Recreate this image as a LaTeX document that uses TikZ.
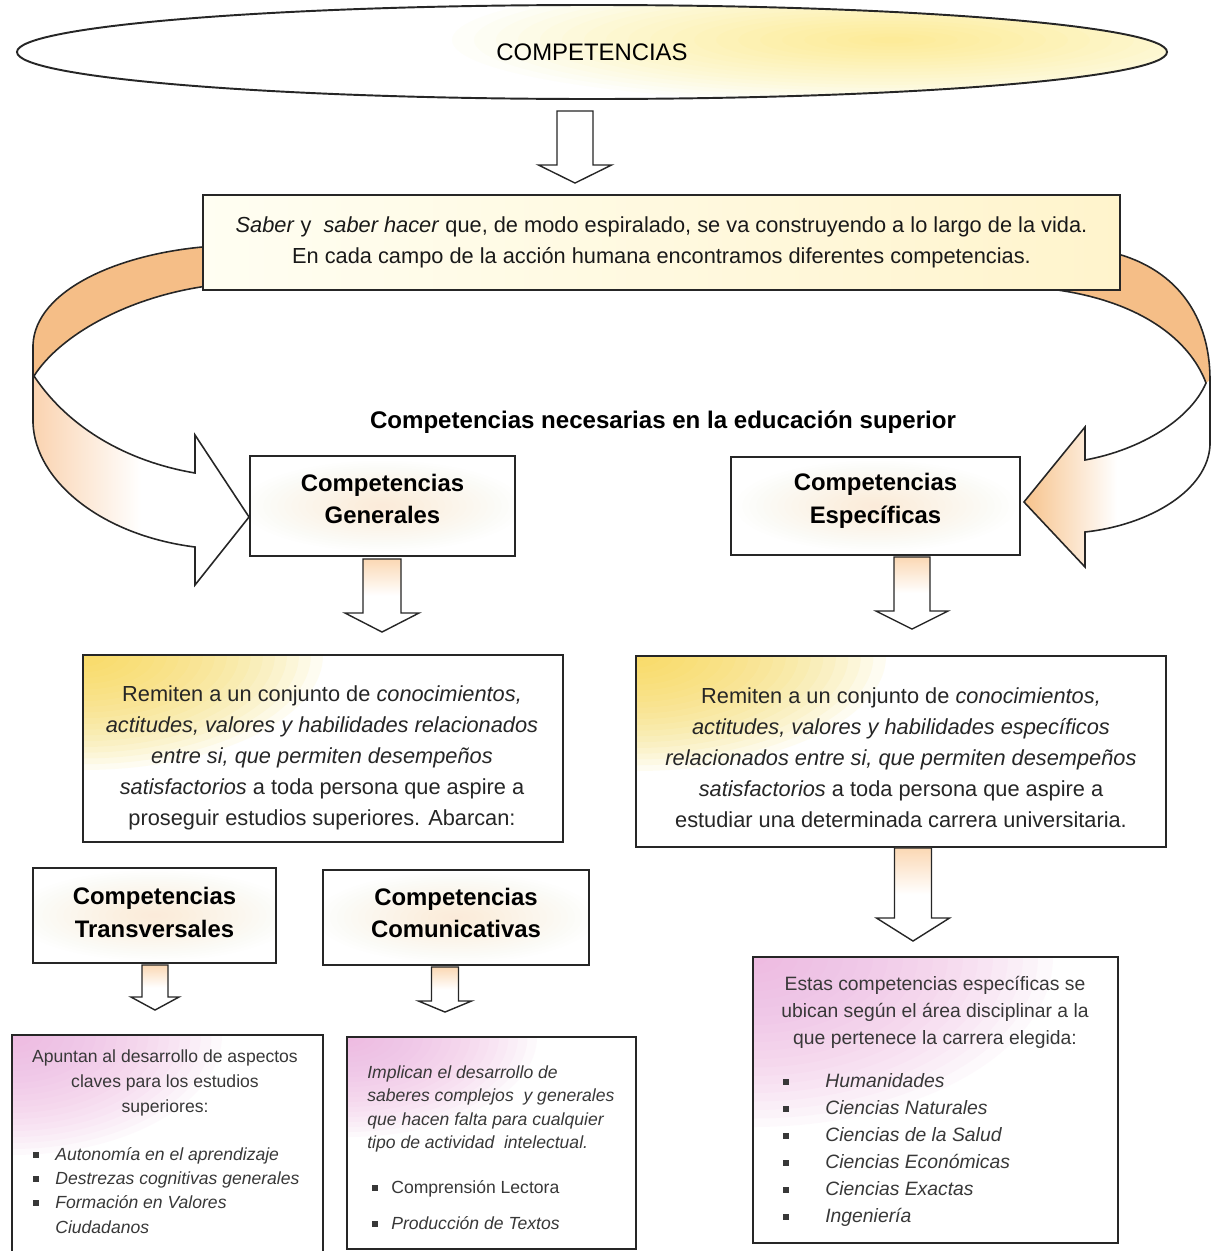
\documentclass[tikz,border=0pt]{standalone}
\usepackage{fontspec}
\setmainfont{Liberation Sans}
\usepackage{tikz}
\usetikzlibrary{shapes.geometric, positioning, calc, backgrounds}

\definecolor{bandorange}{HTML}{F5BE87}
\definecolor{bandlight}{HTML}{FAD3B0}
\definecolor{headorange}{HTML}{F7C38C}
\definecolor{arrowtint}{HTML}{FBD8B4}
\definecolor{glowyellow}{HTML}{F9D646}
\definecolor{glowpink}{HTML}{EEAEDF}
\definecolor{creamleft}{HTML}{FFFEF2}
\definecolor{creamright}{HTML}{FFF4CC}
\definecolor{textgray}{HTML}{383838}

\newlength\pxu
\setlength\pxu{0.02cm}

\newcommand{\sqb}{\rule[1.5pt]{3.2pt}{3.2pt}}

% hollow arrow going down from one box to the next
\newcommand{\blockdown}[9][]{%
  \coordinate (bd-top) at ($(#2.south -| #4,0)+(0,#8)$);
  \coordinate (bd-tip) at ($(#3.north -| #4,0)+(0,-#9)$);
  \draw[blockarr,#1] ($(bd-top)+(-#5,0)$) -- ($(bd-top)+(#5,0)$)
    -- ($(bd-tip)+(#5,-#7)$) -- ($(bd-tip)+(#6,-#7)$) -- (bd-tip)
    -- ($(bd-tip)+(-#6,-#7)$) -- ($(bd-tip)+(-#5,-#7)$) -- cycle;}

\begin{document}
\begin{tikzpicture}[x=0.02cm, y=-0.02cm,
    box/.style={rectangle, draw=black!85, line width=1.1pt, inner sep=0pt, align=center, fill=white},
    glow/.style n args={5}{path picture={\foreach \k in {1,...,20} {\fill[#1, opacity=#5] (path picture bounding box.#2) ellipse [x radius={#3*\k/20*\pxu}, y radius={#4*\k/20*\pxu}];}}},
    headbox/.style={box, glow={arrowtint}{center}{140}{45}{0.025}},
    headtext/.style={inner sep=0pt, align=center, font=\fontsize{13.6}{18.7}\selectfont\bfseries},
    partext/.style={inner sep=0pt, align=center, font=\fontsize{12.4}{17.6}\selectfont, text=black!85},
    smalltext/.style={inner sep=0pt, text=textgray, font=\fontsize{10}{14.2}\selectfont},
    listtext/.style={inner sep=0pt, text=textgray, text height=8.6pt, text depth=1.6pt},
    blockarr/.style={draw=black!85, line width=0.8pt, fill=white},
    tinted/.style={top color=arrowtint, bottom color=white, middle color=white},
    ribbonline/.style={draw=black!85, line width=0.9pt}]

  \useasboundingbox (0,0) rectangle (1212,1251);

  \node[ellipse, draw=black!85, line width=1.1pt, fill=white, minimum width=1150\pxu, minimum height=94\pxu,
    path picture={\foreach \k in {1,...,20} {\fill[yellow!80!orange, opacity=0.025] ($(path picture bounding box.center)+(300,-12)$) ellipse [x radius={22*\k*\pxu}, y radius={3.2*\k*\pxu}];}},
    font=\fontsize{13.6}{16}\selectfont] (comp) at (592,52) {COMPETENCIAS};

  \node[box, left color=creamleft, right color=creamright, minimum width=917\pxu, minimum height=95\pxu,
    font=\fontsize{12.4}{17.6}\selectfont, text=black!90] (sab) at (661.5,242.5)
    {\textit{Saber} y \ \textit{saber hacer} que, de modo espiralado, se va construyendo a lo largo de la vida.\\
     En cada campo de la acción humana encontramos diferentes competencias.};

  \node[font=\fontsize{13.7}{16}\selectfont\bfseries] (nec) at (663,422) {Competencias necesarias en la educación superior};

  \node[headbox, minimum width=265\pxu, minimum height=100\pxu] (gen) at (382.5,506) {};
  \node[headtext] (gen-text) at (382.5,499) {Competencias\\Generales};
  \node[headbox, minimum width=289\pxu, minimum height=98\pxu] (spec) at (875.5,506) {};
  \node[headtext] (spec-text) at (875.5,500.5) {Competencias\\Específicas};

  \node[box, glow={glowyellow}{north west}{240}{115}{0.07}, minimum width=480\pxu, minimum height=187\pxu] (gen2) at (323,748.5) {};
  \node[partext] (gen2-text) at (322,758)
    {Remiten a un conjunto de \textit{conocimientos,}\\
     \textit{actitudes, valores y habilidades relacionados}\\
     \textit{entre si, que permiten desempeños}\\
     \textit{satisfactorios} a toda persona que aspire a\\
     proseguir estudios superiores. Abarcan:};
  \node[box, glow={glowyellow}{north west}{250}{115}{0.07}, minimum width=530\pxu, minimum height=191\pxu] (spec2) at (901,751.5) {};
  \node[partext] (spec2-text) at (901,758)
    {Remiten a un conjunto de \textit{conocimientos,}\\
     \textit{actitudes, valores y habilidades específicos}\\
     \textit{relacionados entre si, que permiten desempeños}\\
     \textit{satisfactorios} a toda persona que aspire a\\
     estudiar una determinada carrera universitaria.};

  \node[headbox, minimum width=243\pxu, minimum height=95\pxu] (trans) at (154.5,915.5) {};
  \node[headtext] (trans-text) at (154.5,912.5) {Competencias\\Transversales};
  \node[headbox, minimum width=266\pxu, minimum height=95\pxu] (comu) at (456,917.5) {};
  \node[headtext] (comu-text) at (456,913) {Competencias\\Comunicativas};

  \node[box, glow={glowpink}{north west}{210}{120}{0.07}, minimum width=311\pxu, minimum height=219\pxu] (trans2) at (167.5,1144.5) {};
  \node[box, glow={glowpink}{north west}{190}{100}{0.07}, minimum width=289\pxu, minimum height=212\pxu] (comu2) at (491.5,1143) {};
  \node[box, glow={glowpink}{north west}{300}{170}{0.07}, minimum width=365\pxu, minimum height=286\pxu] (spec3) at (935.5,1100) {};

  \node[smalltext, align=center] (trans-intro) at (165,1083)
    {Apuntan al desarrollo de aspectos\\claves para los estudios\\superiores:};
  \foreach \aim [count=\i from 0] in {Autonomía en el aprendizaje, Destrezas cognitivas generales, Formación en Valores}
    \node[listtext, anchor=west, font=\fontsize{10}{13.6}\selectfont\itshape] (aim-\i) at (33,1154+24*\i) {\makebox[22\pxu][l]{\sqb}\aim};
  \node[listtext, anchor=west, font=\fontsize{10}{13.6}\selectfont\itshape] (aim-3) at (55,1227) {Ciudadanos};

  \node[smalltext, align=left, anchor=west, font=\fontsize{10}{13.3}\selectfont\itshape] (comu-intro) at (367,1109)
    {Implican el desarrollo de\\saberes complejos \ y generales\\que hacen falta para cualquier\\tipo de actividad \ intelectual.};
  \node[listtext, anchor=west, font=\fontsize{10}{14}\selectfont] (skill-0) at (372,1187) {\makebox[19\pxu][l]{\sqb}Comprensión Lectora};
  \node[listtext, anchor=west, font=\fontsize{10}{14}\selectfont\itshape] (skill-1) at (372,1223) {\makebox[19\pxu][l]{\sqb}Producción de Textos};

  \node[smalltext, align=center, font=\fontsize{11}{15.3}\selectfont] (spec-intro) at (935,1012)
    {Estas competencias específicas se\\ubican según el área disciplinar a la\\que pertenece la carrera elegida:};
  \foreach \area [count=\i from 0] in {Humanidades, Ciencias Naturales, Ciencias de la Salud, Ciencias Económicas, Ciencias Exactas, Ingeniería}
    \node[listtext, anchor=west, font=\fontsize{11}{15.3}\selectfont\itshape] (area-\i) at (783,1081+27*\i) {\makebox[42\pxu][l]{\sqb}\area};

  \blockdown{comp}{sab}{575}{18}{36.5}{18}{11}{11}
  \blockdown[tinted]{gen}{gen2}{382}{19}{37}{19}{2}{22}
  \blockdown[tinted]{spec}{spec2}{912}{18}{36}{18}{1}{26}
  \blockdown[tinted]{spec2}{spec3}{913}{18.5}{36.5}{23}{0}{15}
  \blockdown[tinted]{trans}{trans2}{155}{13}{24}{13}{1}{24}
  \blockdown[tinted]{comu}{comu2}{445}{13.5}{26.5}{11}{1}{24}

  \begin{scope}[on background layer]
    \coordinate (L-tip) at ($(gen.west)+(0,11)$);
    \fill[bandorange] (215,246) .. controls (120,252) and (35,290) .. (33,345) -- (34,376)
      .. controls (60,335) and (130,295) .. (215,285) -- cycle;
    \shade[left color=bandlight, right color=white, middle color=white] (34,376) .. controls (70,430) and (130,462) .. (195,473)
      -- (195,435) -- (L-tip) -- (195,585) -- (195,547) .. controls (100,535) and (35,480) .. (33,423) -- cycle;
    \draw[ribbonline] (215,246) .. controls (120,252) and (35,290) .. (33,345) -- (33,423)
      .. controls (35,480) and (100,535) .. (195,547) -- (195,585) -- (L-tip) -- (195,435) -- (195,473)
      .. controls (130,462) and (70,430) .. (34,376) .. controls (60,335) and (130,295) .. (215,285);

    \coordinate (R-tip) at ($(spec.east)+(3,-4)$);
    \fill[bandorange] (1100,250) .. controls (1170,262) and (1210,310) .. (1210,380) -- (1206,383)
      .. controls (1190,340) and (1140,300) .. (1050,289) -- cycle;
    \shade[left color=headorange, right color=white, middle color=white] (1206,383) .. controls (1190,420) and (1140,450) .. (1085,460)
      -- (1085,427) -- (R-tip) -- (1085,567) -- (1085,532) .. controls (1150,525) and (1208,490) .. (1210,445) -- (1210,383) -- cycle;
    \draw[ribbonline] (1100,250) .. controls (1170,262) and (1210,310) .. (1210,380) -- (1210,445)
      .. controls (1208,490) and (1150,525) .. (1085,532) -- (1085,567) -- (R-tip) -- (1085,427) -- (1085,460)
      .. controls (1140,450) and (1190,420) .. (1206,383) .. controls (1190,340) and (1140,300) .. (1050,289);
  \end{scope}
\end{tikzpicture}
\end{document}
